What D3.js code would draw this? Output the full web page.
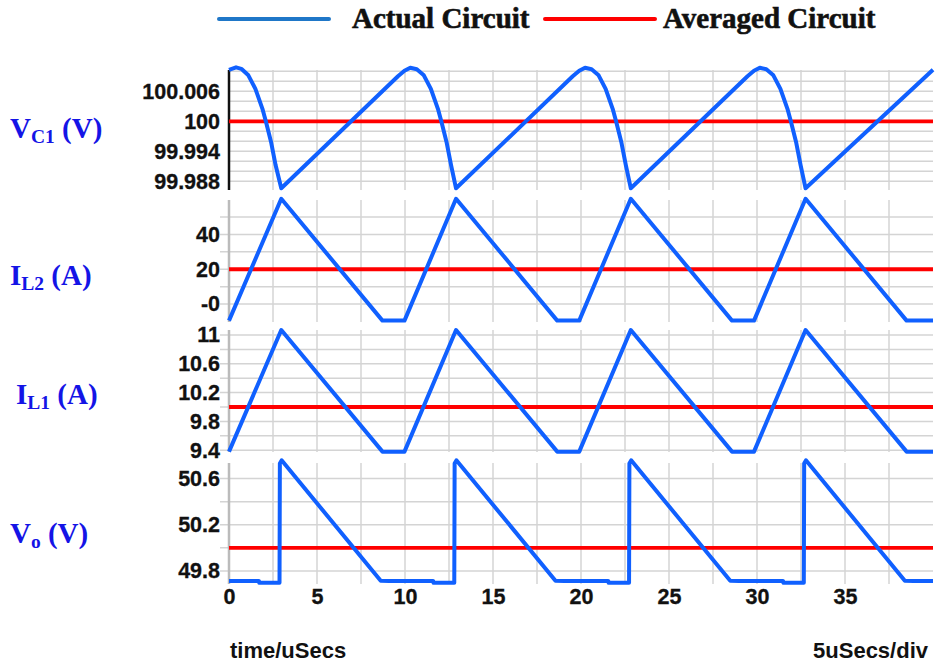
<!DOCTYPE html>
<html>
<head>
<meta charset="utf-8">
<script src="https://cdn.jsdelivr.net/npm/d3@7"></script>
<style>
    body { margin: 0; background: #fff; }
    svg { display: block; }
</style>
</head>
<body>
<div id="chart"></div>
<script>
// time axis, uSecs
const xTicks = [0, 5, 10, 15, 20, 25, 30, 35];
const xGrid = [0, 2.5, 5, 7.5, 10, 12.5, 15, 17.5, 20, 22.5, 25, 27.5, 30, 32.5, 35, 37.5];

// V_C1 (V)
const vc1Time = [0, 0.4, 0.7, 1.1, 1.5, 1.9, 2.1, 2.4, 2.65, 2.97,
    9.6, 9.97, 10.3, 10.67, 11.07, 11.47, 11.87, 12.07, 12.37, 12.62, 12.9,
    19.53, 19.9, 20.23, 20.6, 21.0, 21.4, 21.8, 22.0, 22.3, 22.55, 22.83,
    29.46, 29.83, 30.16, 30.53, 30.93, 31.33, 31.73, 31.93, 32.23, 32.48, 32.76,
    40];
const vc1Vals = [100.0103, 100.0108, 100.0105, 100.0092, 100.0065, 100.0025, 99.9999, 99.9957, 99.9912, 99.9866,
    100.0090, 100.0101, 100.0107, 100.0104, 100.0092, 100.0065, 100.0025, 99.9999, 99.9957, 99.9912, 99.9866,
    100.0090, 100.0101, 100.0107, 100.0104, 100.0092, 100.0065, 100.0025, 99.9999, 99.9957, 99.9912, 99.9866,
    100.0090, 100.0101, 100.0107, 100.0104, 100.0092, 100.0065, 100.0025, 99.9999, 99.9957, 99.9912, 99.9866,
    100.0103];
const vc1Avg = 100;
const vc1Grid = [99.988, 99.990, 99.992, 99.994, 99.996, 99.998, 100, 100.002, 100.004, 100.006, 100.008, 100.010];
const vc1Ticks = [100.006, 100, 99.994, 99.988];
const vc1TickLabels = ['100.006', '100', '99.994', '99.988'];

// I_L2 (A)
const il2Time = [0, 2.97, 8.72, 9.97, 12.9, 18.65, 19.9, 22.83, 28.58, 29.83, 32.76, 38.5, 40];
const il2Vals = [-9.5, 60.5, -9.5, -9.5, 60.5, -9.5, -9.5, 60.5, -9.5, -9.5, 60.5, -9.5, -9.5];
const il2Avg = 20;
const il2Grid = [0, 10, 20, 30, 40, 50];
const il2Ticks = [40, 20, 0];
const il2TickLabels = ['40', '20', '-0'];

// I_L1 (A)
const il1Time = [0, 2.97, 8.72, 9.97, 12.9, 18.65, 19.9, 22.83, 28.58, 29.83, 32.76, 38.5, 40];
const il1Vals = [9.38, 11.07, 9.38, 9.38, 11.07, 9.38, 9.38, 11.07, 9.38, 9.38, 11.07, 9.38, 9.38];
const il1Avg = 10;
const il1Grid = [9.4, 9.6, 9.8, 10, 10.2, 10.4, 10.6, 10.8, 11];
const il1Ticks = [11, 10.6, 10.2, 9.8, 9.4];
const il1TickLabels = ['11', '10.6', '10.2', '9.8', '9.4'];

// Vo (V)
const voTime = [0, 1.7, 1.72, 2.87, 2.89, 2.99,
    8.62, 9.1, 11.6, 11.62, 12.8, 12.82, 12.92,
    18.55, 19.05, 21.55, 21.57, 22.73, 22.75, 22.85,
    28.48, 28.98, 31.48, 31.5, 32.66, 32.68, 32.78,
    38.4, 38.9, 40];
const voVals = [49.713, 49.713, 49.697, 49.697, 50.73, 50.758,
    49.716, 49.713, 49.713, 49.697, 49.697, 50.73, 50.758,
    49.716, 49.713, 49.713, 49.697, 49.697, 50.73, 50.758,
    49.716, 49.713, 49.713, 49.697, 49.697, 50.73, 50.758,
    49.716, 49.713, 49.713];
const voAvg = 50;
const voGrid = [49.8, 50, 50.2, 50.4, 50.6];
const voTicks = [50.6, 50.2, 49.8];
const voTickLabels = ['50.6', '50.2', '49.8'];

const W = 937, H = 666;
const BLUE = '#1060ff', RED = '#ff0000', GRID = '#d4d4d4';
const SANS = '"Liberation Sans", Arial, sans-serif';
const SERIF = '"Liberation Serif", "Times New Roman", serif';

const svg = d3.select('#chart').append('svg')
    .attr('width', W)
    .attr('height', H);

const x = d3.scaleLinear().domain([0, 40]).range([229, 933]);

const panels = [
    { time: vc1Time, vals: vc1Vals, avg: vc1Avg, grid: vc1Grid, ticks: vc1Ticks, labels: vc1TickLabels,
      domain: [99.98626, 100.01026], top: 70, bottom: 190, black: true,
      name: ['V', 'C1', ' (V)'], lx: 10, ly: 138 },
    { time: il2Time, vals: il2Vals, avg: il2Avg, grid: il2Grid, ticks: il2Ticks, labels: il2TickLabels,
      domain: [-10.3, 59.8], top: 200, bottom: 322, black: false,
      name: ['I', 'L2', ' (A)'], lx: 10, ly: 285 },
    { time: il1Time, vals: il1Vals, avg: il1Avg, grid: il1Grid, ticks: il1Ticks, labels: il1TickLabels,
      domain: [9.375, 11.07], top: 330, bottom: 452, black: false,
      name: ['I', 'L1', ' (A)'], lx: 16, ly: 404 },
    { time: voTime, vals: voVals, avg: voAvg, grid: voGrid, ticks: voTicks, labels: voTickLabels,
      domain: [49.687, 50.735], top: 463, bottom: 584, black: false,
      name: ['V', 'o', ' (V)'], lx: 10, ly: 543 }
];

panels.forEach(p => {
    const y = d3.scaleLinear().domain(p.domain).range([p.bottom, p.top]);
    const g = svg.append('g');

    // vertical grid
    g.selectAll('.vgrid')
        .data(xGrid.filter(d => d > 0))
        .join('line')
        .attr('x1', d => x(d)).attr('x2', d => x(d))
        .attr('y1', p.top).attr('y2', p.bottom)
        .attr('stroke', GRID).attr('stroke-width', 1.5);

    // horizontal grid
    g.selectAll('.hgrid')
        .data(p.grid)
        .join('line')
        .attr('x1', p.black ? x(0) : x(0) - 9).attr('x2', x(40))
        .attr('y1', d => y(d)).attr('y2', d => y(d))
        .attr('stroke', GRID).attr('stroke-width', 1.5);

    // left axis line
    g.append('line')
        .attr('x1', x(0)).attr('x2', x(0))
        .attr('y1', p.top).attr('y2', p.bottom)
        .attr('stroke', p.black ? '#111' : '#bbb')
        .attr('stroke-width', 2.5);

    // tick labels
    const axis = g.append('g')
        .attr('transform', `translate(${x(0)},0)`)
        .call(d3.axisLeft(y)
            .tickValues(p.ticks)
            .tickFormat((d, i) => p.labels[i])
            .tickSize(0)
            .tickPadding(9));
    axis.select('.domain').remove();
    axis.selectAll('text')
        .attr('font-family', SANS)
        .attr('font-weight', 'bold')
        .attr('font-size', 21.5)
        .attr('fill', '#111')
        .attr('stroke', '#111')
        .attr('stroke-width', 0.3);

    // averaged circuit
    g.append('line')
        .attr('x1', x(0)).attr('x2', x(40))
        .attr('y1', y(p.avg)).attr('y2', y(p.avg))
        .attr('stroke', RED).attr('stroke-width', 3.8);

    // actual circuit
    const pts = p.time.map((t, i) => [t, p.vals[i]]);
    g.append('path')
        .datum(pts)
        .attr('fill', 'none')
        .attr('stroke', BLUE)
        .attr('stroke-width', 4)
        .attr('stroke-linejoin', 'round')
        .attr('d', d3.line().x(d => x(d[0])).y(d => y(d[1])));

    // panel name
    const t = svg.append('text')
        .attr('x', p.lx).attr('y', p.ly)
        .attr('font-family', SERIF)
        .attr('font-weight', 'bold')
        .attr('font-size', 29)
        .attr('fill', '#1414e6');
    t.append('tspan').text(p.name[0]);
    t.append('tspan').attr('font-size', 19.5).attr('dy', 5).text(p.name[1]);
    t.append('tspan').attr('dy', -5).text(p.name[2]);
});

// x axis labels
const xAxis = svg.append('g')
    .attr('transform', 'translate(0,586)')
    .call(d3.axisBottom(x).tickValues(xTicks).tickSize(0).tickPadding(3));
xAxis.select('.domain').remove();
xAxis.selectAll('text')
    .attr('font-family', SANS)
    .attr('font-weight', 'bold')
    .attr('font-size', 21.5)
    .attr('fill', '#111')
    .attr('stroke', '#111')
    .attr('stroke-width', 0.3);

svg.append('text')
    .attr('x', 230).attr('y', 658)
    .attr('font-family', SANS).attr('font-weight', 'bold').attr('font-size', 22)
    .attr('fill', '#111')
    .text('time/uSecs');
svg.append('text')
    .attr('x', 928).attr('y', 658)
    .attr('text-anchor', 'end')
    .attr('font-family', SANS).attr('font-weight', 'bold').attr('font-size', 22)
    .attr('fill', '#111')
    .text('5uSecs/div');

// legend
const legend = [
    { name: 'Actual Circuit', color: '#1f77c8', x1: 219, x2: 329, tx: 352 },
    { name: 'Averaged Circuit', color: RED, x1: 545, x2: 655, tx: 663 }
];
legend.forEach(l => {
    svg.append('line')
        .attr('x1', l.x1).attr('x2', l.x2)
        .attr('y1', 19).attr('y2', 19)
        .attr('stroke', l.color).attr('stroke-width', 4)
        .attr('stroke-linecap', 'round');
    svg.append('text')
        .attr('x', l.tx).attr('y', 28)
        .attr('font-family', SERIF).attr('font-weight', 'bold').attr('font-size', 29)
        .attr('fill', '#111')
        .attr('stroke', '#111')
        .attr('stroke-width', 0.6)
        .text(l.name);
});
</script>
</body>
</html>
